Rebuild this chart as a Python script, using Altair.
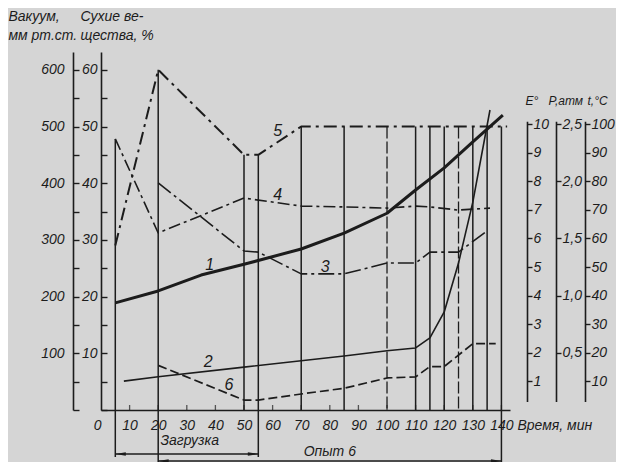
import altair as alt
import pandas as pd

# ---------------- data ----------------
x_tick_values = [0, 10, 20, 30, 40, 50, 60, 70, 80, 90, 100, 110, 120, 130, 140]
vac_tick_values = [100, 200, 300, 400, 500, 600]
dry_tick_values = [10, 20, 30, 40, 50, 60]
e_tick_values = [1, 2, 3, 4, 5, 6, 7, 8, 9, 10]
p_tick_values = [0.5, 1.0, 1.5, 2.0, 2.5]
tc_tick_values = [10, 20, 30, 40, 50, 60, 70, 80, 90, 100]

# curve 1 - dry matter, %
c1_t = [5, 20, 35, 50, 70, 85, 100, 110, 120, 130, 140.5]
c1_v = [18.9, 21.0, 23.8, 25.7, 28.4, 31.2, 34.7, 38.8, 42.7, 47.3, 52.0]
# curve 2 - viscosity, E°
c2_t = [8, 20, 50, 70, 85, 100, 110, 115, 120, 125, 130, 136]
c2_v = [1.01, 1.16, 1.50, 1.72, 1.89, 2.07, 2.17, 2.52, 3.43, 5.14, 7.27, 10.49]
# curve 3 - temperature, °C
c3_t = [20, 50, 55, 70, 85, 100, 110, 115, 125, 135]
c3_v = [79.4, 55.6, 55.2, 47.6, 47.6, 51.4, 51.4, 55.2, 55.2, 62.6]
# curve 4 - temperature, °C
c4_t = [5, 20, 50, 70, 85, 100, 110, 115, 125, 136]
c4_v = [94.8, 61.9, 74.1, 71.3, 71.0, 70.6, 71.3, 71.0, 69.9, 70.6]
# curve 5 - vacuum, mm Hg
c5_t = [5, 20, 50, 55, 70, 142]
c5_v = [290, 600, 450, 450, 500, 500]
# curve 6 - pressure, atm
c6_t = [20, 50, 55, 70, 85, 100, 110, 115, 120, 130, 138]
c6_v = [0.39, 0.087, 0.087, 0.14, 0.19, 0.28, 0.29, 0.38, 0.38, 0.58, 0.58]

# vertical lines (time, top in vacuum units)
vline_t = [5, 20, 50, 55, 70, 85, 110, 115, 120, 130, 135, 140]
vline_top = [478, 600, 450, 450, 500, 500, 500, 500, 500, 500, 500, 500]
vline_dash_t = [100, 125]
vline_dash_top = [500, 500]
ext_short_t = [5, 55]
ext_long_t = [20, 140]

# curve numbers (time, vacuum units)
label_text = ["1", "2", "3", "4", "5", "6"]
label_t = [38, 37.5, 78.4, 61.8, 61.8, 44.7]
label_v = [256, 85, 252, 379, 492, 44]

# brackets
load_t = [5, 55]
run_t = [20, 140]
bracket_text = ["Загрузка", "Опыт 6"]
bracket_text_t = [31, 80]

# ---------------- styling / geometry ----------------
W, H = 409, 358
INK = "#1c1c1c"
BG = "#d5d5d5"
FONT = "Liberation Sans, Arial, sans-serif"

xs = alt.Scale(domain=[0, 143], nice=False, zero=False)
vac_s = alt.Scale(domain=[0, 631.4], nice=False, zero=False)
dry_s = alt.Scale(domain=[0, 63.14], nice=False, zero=False)
KE = 28.6  # px per E unit
rng = [H - 0.3 * KE, H - 10.1 * KE]
e_s = alt.Scale(domain=[0.3, 10.1], range=rng, nice=False, zero=False)
p_s = alt.Scale(domain=[0.075, 2.525], range=rng, nice=False, zero=False)
tc_s = alt.Scale(domain=[3, 101], range=rng, nice=False, zero=False)

lab = dict(labelFont=FONT, labelFontSize=14, labelFontStyle="italic",
           labelColor=INK, grid=False)


def ttl(size=14):
    return dict(titleFont=FONT, titleFontSize=size, titleFontStyle="italic",
                titleFontWeight="normal", titleColor=INK, titleAngle=0)


xax = alt.Axis(values=x_tick_values, ticks=False, tickSize=0, labelPadding=8,
               domainColor=INK, domainWidth=1.6, labelFlush=False,
               labelAlign=alt.condition("datum.value == 0", alt.value("right"), alt.value("center")),
               title="Время, мин", titleX=W + 7, titleY=15, titleAlign="left",
               titleBaseline="middle", **lab, **ttl())
X = alt.X("t:Q", scale=xs, axis=xax)


def tick_axis(offset):
    return alt.Axis(orient="right", offset=offset, labels=False, domain=False,
                    tickSize=6, tickColor=INK, tickWidth=1.4, grid=False, title=None)


vac_ax = alt.Axis(orient="left", offset=28, values=vac_tick_values, ticks=False,
                  tickSize=0, labelPadding=9, domainColor=INK, domainWidth=1.6,
                  title=["Вакуум,", "мм рт.ст."], titleX=-65, titleY=-43,
                  titleAlign="left", titleBaseline="top", titleLineHeight=19,
                  **lab, **ttl())
dry_ax = alt.Axis(orient="left", offset=0, values=dry_tick_values, ticks=False,
                  tickSize=0, labelPadding=4, domainColor=INK, domainWidth=1.6,
                  title=["Сухие ве-", "щества, %"], titleX=-21, titleY=-43,
                  titleAlign="left", titleBaseline="top", titleLineHeight=19,
                  **lab, **ttl())


def right_axis(offset, values, title, tx, expr=None):
    kw = dict(orient="right", offset=offset, values=values, tickSize=5,
              tickColor=INK, tickWidth=1.4, labelPadding=1, domainColor=INK,
              domainWidth=1.6, title=title, titleX=tx, titleY=48,
              titleAlign="left", titleBaseline="middle", **lab, **ttl(12))
    if expr:
        kw["labelExpr"] = expr
    return alt.Axis(**kw)


e_ax = right_axis(17, e_tick_values, "E°", -2)
p_ax = right_axis(46, p_tick_values, "P,атм", -8,
                  "replace(format(datum.value, '.1f'), '.', ',')")
tc_ax = right_axis(75, tc_tick_values, "t,°C", 2)

df1 = pd.DataFrame({"t": c1_t, "v": c1_v})
df2 = pd.DataFrame({"t": c2_t, "v": c2_v})
df3 = pd.DataFrame({"t": c3_t, "v": c3_v})
df4 = pd.DataFrame({"t": c4_t, "v": c4_v})
df5 = pd.DataFrame({"t": c5_t, "v": c5_v})
df6 = pd.DataFrame({"t": c6_t, "v": c6_v})
dfv = pd.DataFrame({"t": vline_t, "v": vline_top})
dfvd = pd.DataFrame({"t": vline_dash_t, "v": vline_dash_top})
dfl = pd.DataFrame({"t": label_t, "v": label_v, "s": label_text})
dfxt = pd.DataFrame({"t": x_tick_values[1:]})


def line(df, scale, axis, width, dash=None):
    kw = dict(color=INK, strokeWidth=width, strokeJoin="round")
    if dash:
        kw["strokeDash"] = dash
    return alt.Chart(df).mark_line(**kw).encode(
        x=X, y=alt.Y("v:Q", scale=scale, axis=axis))


layers = []
# vacuum: curve 5 with the vacuum axis
layers.append(line(df5, vac_s, vac_ax, 2.0, [13, 5, 3, 5]))
# vertical lines with inward ticks of the vacuum axis
layers.append(alt.Chart(dfv).mark_rule(color=INK, strokeWidth=1.5).encode(
    x=X, y=alt.Y("v:Q", scale=vac_s, axis=tick_axis(-(W + 28))), y2=alt.datum(0)))
layers.append(alt.Chart(dfvd).mark_rule(color=INK, strokeWidth=1.3, strokeDash=[12, 3]).encode(
    x=X, y=alt.Y("v:Q", scale=vac_s, axis=None), y2=alt.datum(0)))
# dry matter: curve 1
layers.append(line(df1, dry_s, dry_ax, 3.0))
layers.append(alt.Chart(df1).mark_line(opacity=0).encode(
    x=X, y=alt.Y("v:Q", scale=dry_s, axis=tick_axis(-W))))
# E°: curve 2
layers.append(line(df2, e_s, e_ax, 1.6))
# P: curve 6
layers.append(line(df6, p_s, p_ax, 1.7, [9, 4]))
# t°C: curves 3 and 4
layers.append(line(df3, tc_s, tc_ax, 1.6, [16, 4, 3, 4]))
layers.append(line(df4, tc_s, None, 1.6, [12, 4, 3, 4]))
# curve numbers
layers.append(alt.Chart(dfl).mark_text(font=FONT, fontSize=16, fontStyle="italic",
                                       color=INK).encode(
    x=X, y=alt.Y("v:Q", scale=vac_s, axis=None), text="s:N"))
# inward x ticks
layers.append(alt.Chart(dfxt).mark_tick(color=INK, thickness=1.3, size=5).encode(
    x=X, y=alt.value(H - 2.5)))
# extensions of vertical lines below the axis
layers.append(alt.Chart(pd.DataFrame({"t": ext_short_t})).mark_rule(
    color=INK, strokeWidth=1.5).encode(x=X, y=alt.value(H), y2=alt.value(H + 47)))
layers.append(alt.Chart(pd.DataFrame({"t": ext_long_t})).mark_rule(
    color=INK, strokeWidth=1.5).encode(x=X, y=alt.value(H), y2=alt.value(H + 52)))
# brackets
for span, yy in ((load_t, H + 44), (run_t, H + 51)):
    dfb = pd.DataFrame({"t": [span[0]], "t2": [span[1]]})
    layers.append(alt.Chart(dfb).mark_rule(color=INK, strokeWidth=1.3).encode(
        x=X, x2="t2:Q", y=alt.value(yy)))
    layers.append(alt.Chart(pd.DataFrame({"t": [span[0]]})).mark_point(
        shape="M0,0L2,-0.35L2,0.35Z", size=110, filled=True, color=INK, opacity=1).encode(
        x=X, y=alt.value(yy)))
    layers.append(alt.Chart(pd.DataFrame({"t": [span[1]]})).mark_point(
        shape="M0,0L-2,-0.35L-2,0.35Z", size=110, filled=True, color=INK, opacity=1).encode(
        x=X, y=alt.value(yy)))
dft = pd.DataFrame({"t": bracket_text_t, "s": bracket_text})
layers.append(alt.Chart(dft.iloc[[0]]).mark_text(font=FONT, fontSize=14, fontStyle="italic",
                                                 color=INK).encode(
    x=X, y=alt.value(H + 31), text="s:N"))
layers.append(alt.Chart(dft.iloc[[1]]).mark_text(font=FONT, fontSize=14, fontStyle="italic",
                                                 color=INK).encode(
    x=X, y=alt.value(H + 42), text="s:N"))

chart = alt.layer(*layers).resolve_scale(y="independent").properties(
    width=W, height=H,
    autosize=alt.AutoSizeParams(type="none"),
    padding={"left": 93, "top": 44, "right": 106, "bottom": 52},
    background=BG,
).configure_view(stroke=None)

chart.save("out.html", embed_options={"renderer": "svg", "actions": False})
